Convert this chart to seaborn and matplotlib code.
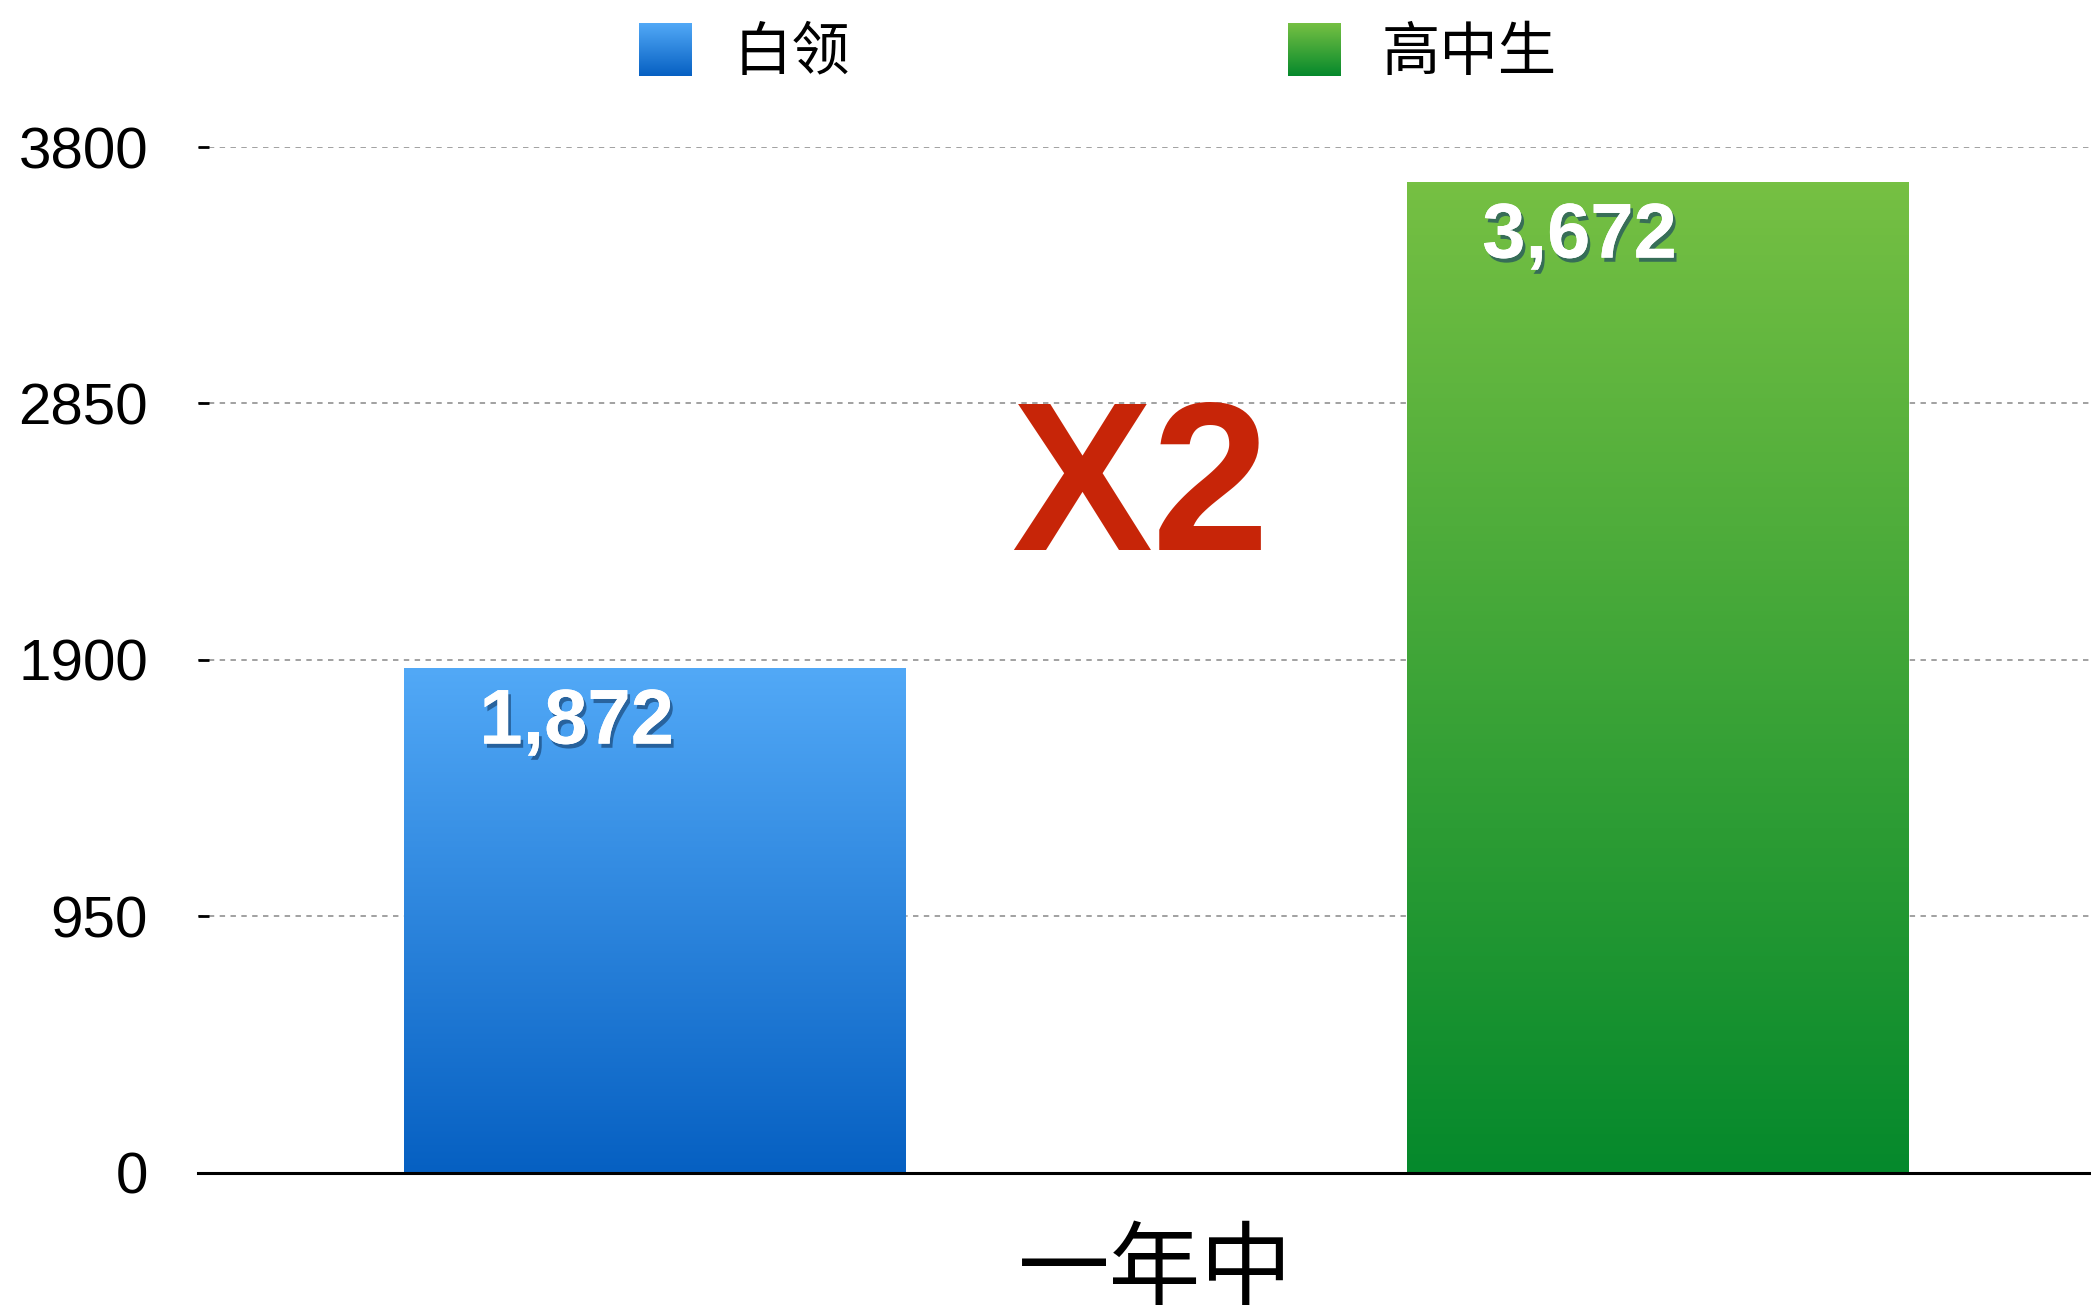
import numpy as np
import pandas as pd
import seaborn as sns
import matplotlib.pyplot as plt
import matplotlib.patheffects as pe
from matplotlib.colors import LinearSegmentedColormap
from matplotlib.patches import Patch
from matplotlib.legend_handler import HandlerBase
from matplotlib.image import BboxImage
from matplotlib.transforms import Bbox, TransformedBbox

# data
groups = ['白领', '高中生']
period = ['一年中', '一年中']
values = [1872, 3672]
yticks = [0, 950, 1900, 2850, 3800]
top_colors = ['#52a9f7', '#76c043']
bottom_colors = ['#0660c2', '#05892c']

df = pd.DataFrame({'group': groups, 'period': period, 'value': values})

sns.set_style('white')
plt.rcParams['font.family'] = ['Liberation Sans', 'Noto Sans CJK SC', 'DejaVu Sans']
plt.rcParams['text.color'] = 'black'
plt.rcParams['xtick.color'] = 'black'
plt.rcParams['ytick.color'] = 'black'

grad = np.linspace(0, 1, 256).reshape(-1, 1)
cmaps = [LinearSegmentedColormap.from_list('g%d' % i, [b, t])
         for i, (t, b) in enumerate(zip(top_colors, bottom_colors))]

fig = plt.figure(figsize=(20.91, 13.09), dpi=100)
ax = fig.add_axes([0.0947, 0.1039, 0.9053, 0.7838])

mid = ['#2d86e0', '#3ba33a']
sns.barplot(data=df, x='period', y='value', hue='group', palette=mid,
            width=0.8, gap=0.5, ax=ax, legend=False)

# gradient fill inside each bar
for cont, cmap in zip(ax.containers, cmaps):
    for bar in cont:
        x0, y0 = bar.get_x(), bar.get_y()
        w, h = bar.get_width(), bar.get_height()
        im = ax.imshow(grad, cmap=cmap, extent=[x0, x0 + w, y0, y0 + h],
                       origin='lower', aspect='auto', zorder=2)
        im.set_clip_path(bar)
        # value label
        ax.annotate(f'{int(h):,}', xy=(x0 + w / 2, y0 + h), xytext=(-56, -40),
                    textcoords='offset points', ha='center', va='center',
                    fontsize=56, fontweight='bold', color='white', zorder=4,
                    path_effects=[pe.withSimplePatchShadow(offset=(2, -3), shadow_rgbFace='#123a66', alpha=0.6),
                                  pe.Normal()])

ax.set_xlim(-0.382, 0.373)
ax.set_ylim(0, 3800)
ax.set_yticks(yticks)
ax.set_yticklabels([str(v) for v in yticks])
ax.yaxis.grid(True, linestyle=(0, (3, 3)), color='#9a9a9a', linewidth=1.3)
ax.set_axisbelow(True)
for s in ['top', 'right', 'left']:
    ax.spines[s].set_visible(False)
ax.spines['bottom'].set_color('black')
ax.spines['bottom'].set_linewidth(2.2)
ax.spines['bottom'].set_zorder(5)
ax.tick_params(axis='y', direction='in', length=8, width=2, color='black',
               labelsize=42, pad=36, left=True, labelcolor='black')
ax.tick_params(axis='x', length=0, labelsize=66, pad=42, labelcolor='black')
ax.set_xlabel('')
ax.set_ylabel('')

# the "X2" annotation
ax.text(-0.006, 2510, 'X2', ha='center', va='center', fontsize=152,
        fontweight='bold', color='#c72508', zorder=3)


class GradHandler(HandlerBase):
    def create_artists(self, legend, orig_handle, xdescent, ydescent,
                       width, height, fontsize, trans):
        bb = TransformedBbox(Bbox.from_bounds(-xdescent, -ydescent, width, height), trans)
        img = BboxImage(bb, cmap=orig_handle.cmap, origin='lower')
        img.set_data(grad)
        return [img]


class GradPatch(Patch):
    def __init__(self, cmap):
        super().__init__()
        self.cmap = cmap


handles = [GradPatch(c) for c in cmaps]
fig.legend(handles, groups, loc='center', bbox_to_anchor=(1098 / 2091, 1 - 53 / 1309),
           ncol=2, frameon=False, fontsize=42, handlelength=0.9, handleheight=1.0,
           handletextpad=0.72, columnspacing=7.5,
           handler_map={GradPatch: GradHandler()})

fig.savefig('out.png', dpi=100)
